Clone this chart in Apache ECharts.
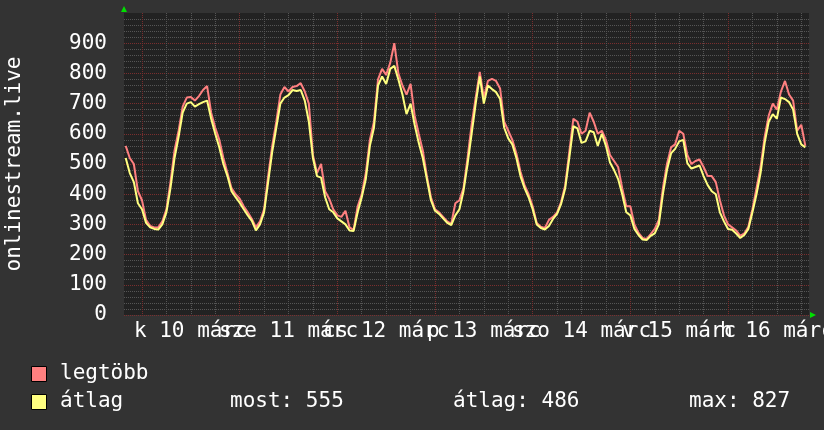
<!DOCTYPE html>
<html><head><meta charset="utf-8">
<script src="https://cdn.jsdelivr.net/npm/echarts@6/dist/echarts.min.js"></script>
<style>html,body{margin:0;padding:0;background:#333333;}#c{width:824px;height:430px;}</style>
</head><body><div id="c"></div>
<script>
// hours relative to 10 March 00:00, first sample at -4h, one sample per hour
const firstHour = -4;
const seriesNames = ['legtöbb', 'átlag'];
const maxValues = [
  560, 520, 500, 410,
  380, 315, 295, 290, 290, 310, 350, 440, 545, 610, 690, 720, 722, 710, 725, 745, 758, 670, 620, 580, 520, 470, 420, 400,
  385, 360, 340, 318, 290, 310, 350, 460, 560, 640, 730, 755, 740, 755, 758, 768, 740, 700, 530, 470, 500, 410, 385, 350,
  330, 325, 345, 290, 282, 360, 400, 470, 580, 640, 780, 815, 795, 835, 900, 800, 760, 730, 765, 660, 600, 545, 460, 390,
  350, 340, 325, 310, 302, 370, 380, 420, 520, 630, 720, 805, 720, 775, 782, 775, 750, 640, 610, 580, 535, 475, 430, 400,
  360, 305, 292, 288, 315, 325, 340, 375, 430, 540, 650, 640, 600, 610, 670, 640, 600, 610, 580, 530, 510, 490, 420, 360,
  360, 300, 272, 255, 252, 268, 285, 315, 420, 500, 555, 565, 610, 600, 530, 500, 510, 515, 490, 460, 460, 440, 380, 330,
  300, 290, 280, 262, 270, 292, 350, 420, 490, 590, 660, 700, 680, 740, 775, 730, 710, 610, 630, 560
];
const avgValues = [
  520, 470, 440, 370,
  350, 305, 290, 285, 283, 300, 340, 420, 520, 590, 670, 700, 705, 690, 698, 705, 710, 650, 600, 555, 500, 460, 410, 390,
  372, 350, 330, 312, 280, 300, 340, 440, 540, 620, 700, 720, 728, 745, 742, 745, 710, 640, 520, 460, 455, 390, 350, 340,
  320, 310, 300, 280, 278, 340, 390, 450, 560, 620, 760, 790, 765, 815, 825, 780, 730, 665, 700, 630, 570, 520, 450, 380,
  345, 335, 320, 305, 298, 330, 350, 410, 500, 600, 700, 790, 700, 760, 748, 738, 715, 620, 585, 565, 520, 460, 420, 390,
  350, 300, 288, 283, 295, 318, 335, 368, 420, 520, 625, 618, 570, 575, 610, 605, 560, 600, 560, 505, 480, 450, 400, 340,
  330, 285, 265, 250, 248, 262, 270, 300, 400, 480, 535, 550, 575, 580, 503, 485, 490, 495, 460, 430, 410, 400, 340, 310,
  285, 282, 270, 255, 265, 285, 340, 400, 470, 570, 640, 665, 650, 720, 715, 705, 680, 600, 565, 555
];
const dayLabels = ['k 10 márc', 'sze 11 márc', 'cs 12 márc', 'p 13 márc', 'szo 14 márc', 'v 15 márc', 'h 16 márc'];
const yAxisTitle = 'onlinestream.live';
const statTexts = ['most: 555', 'átlag: 486', 'max: 827'];

const X_MIN = -4.42, X_MAX = 163.9;
const FONT = '"DejaVu Sans Mono", monospace';
const FS = 21;
const COL_MAX = '#ff8080', COL_AVG = '#ffff80';
const MAJOR = '#7a2e2e', MINOR = '#555555';

const hours = maxValues.map((_, i) => firstHour + i);
const midnights = dayLabels.map((_, i) => i * 24);
const noons = dayLabels.map((_, i) => i * 24 + 12);
const noonsEven = noons.filter((_, i) => i % 2 === 0);
const noonsOdd = noons.filter((_, i) => i % 2 === 1);
const sixHours = [];
for (let h = -24; h <= 168; h += 6) if (h % 24 !== 0 && h > X_MIN && h < X_MAX) sixHours.push(h);

const labelStyle = (vals) => ({customValues: vals, color: '#ffffff', fontFamily: FONT, fontSize: FS, margin: 6,
  showMinLabel: true, showMaxLabel: true, hideOverlap: false,
  formatter: v => dayLabels[Math.round((v - 12) / 24)]});

const chart = echarts.init(document.getElementById('c'), null, {renderer: 'canvas'});
chart.setOption({
  backgroundColor: '#333333',
  animation: false,
  grid: {left: 124, right: 15, top: 13, bottom: 115, show: true, backgroundColor: '#222222', borderWidth: 0,
    containLabel: false, outerBoundsMode: 'none'},
  xAxis: [
    {type: 'value', min: X_MIN, max: X_MAX, position: 'bottom',
      axisLine: {show: false, onZero: false}, axisTick: {show: false, customValues: sixHours},
      axisLabel: labelStyle(noonsOdd),
      splitLine: {show: true, lineStyle: {color: MINOR, width: 1, type: [1, 1]}}},
    {type: 'value', min: X_MIN, max: X_MAX, position: 'bottom',
      axisLine: {show: true, onZero: false, symbol: ['none', 'triangle'], symbolSize: [6, 6], symbolOffset: [0, 4],
        lineStyle: {color: '#00e000', width: 0}},
      axisTick: {show: false, customValues: midnights},
      axisLabel: labelStyle(noonsEven),
      splitLine: {show: true, lineStyle: {color: MAJOR, width: 1, type: [1, 1]}}}
  ],
  yAxis: {
    type: 'value', min: 0, max: 1000, interval: 100,
    name: yAxisTitle, nameLocation: 'middle', nameGap: 99, nameRotate: 90,
    nameTextStyle: {color: '#ffffff', fontFamily: FONT, fontSize: FS},
    axisLine: {show: true, onZero: false, symbol: ['none', 'triangle'], symbolSize: [6, 6], symbolOffset: [0, 4],
      lineStyle: {color: '#00e000', width: 0}},
    axisTick: {show: false},
    axisLabel: {color: '#ffffff', fontFamily: FONT, fontSize: FS, margin: 17, showMaxLabel: false},
    splitLine: {show: true, showMaxLine: false, lineStyle: {color: MAJOR, width: 1, type: [1, 1]}},
    minorTick: {show: false, splitNumber: 5},
    minorSplitLine: {show: true, lineStyle: {color: MINOR, width: 1, type: [1, 1]}}
  },
  series: [
    {name: seriesNames[0], type: 'line', xAxisIndex: 1, showSymbol: false, symbol: 'none',
      lineStyle: {color: COL_MAX, width: 2}, itemStyle: {color: COL_MAX},
      data: hours.map((h, i) => [h, maxValues[i]])},
    {name: seriesNames[1], type: 'line', xAxisIndex: 1, showSymbol: false, symbol: 'none',
      lineStyle: {color: COL_AVG, width: 2}, itemStyle: {color: COL_AVG},
      data: hours.map((h, i) => [h, avgValues[i]])}
  ],
  graphic: [
    {type: 'rect', shape: {x: 31.5, y: 366.5, width: 15, height: 15}, style: {fill: COL_MAX, stroke: '#000', lineWidth: 1}},
    {type: 'text', x: 60, y: 374, style: {text: seriesNames[0], fill: '#fff', font: FS + 'px ' + FONT, verticalAlign: 'middle'}},
    {type: 'rect', shape: {x: 31.5, y: 394.5, width: 15, height: 15}, style: {fill: COL_AVG, stroke: '#000', lineWidth: 1}},
    {type: 'text', x: 60, y: 402, style: {text: seriesNames[1], fill: '#fff', font: FS + 'px ' + FONT, verticalAlign: 'middle'}},
    {type: 'text', x: 230, y: 402, style: {text: statTexts[0], fill: '#fff', font: FS + 'px ' + FONT, verticalAlign: 'middle'}},
    {type: 'text', x: 453, y: 402, style: {text: statTexts[1], fill: '#fff', font: FS + 'px ' + FONT, verticalAlign: 'middle'}},
    {type: 'text', x: 689, y: 402, style: {text: statTexts[2], fill: '#fff', font: FS + 'px ' + FONT, verticalAlign: 'middle'}}
  ]
});
</script></body></html>
